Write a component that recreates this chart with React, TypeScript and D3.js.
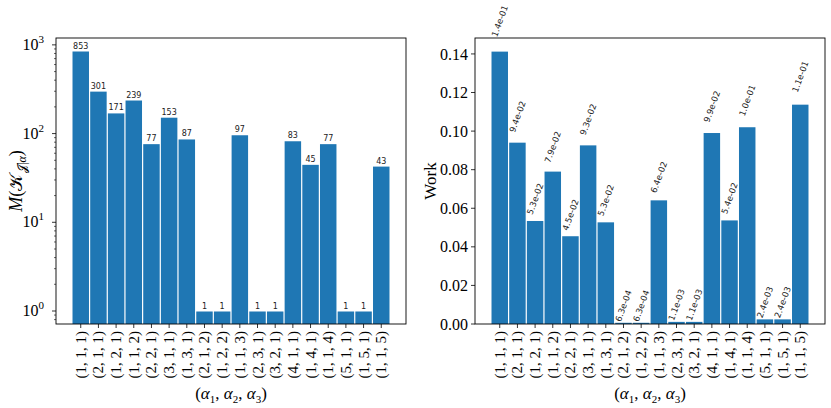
import React, { useEffect, useRef } from 'react';
import * as d3 from 'd3';

const categories = [
  '(1, 1, 1)', '(2, 1, 1)', '(1, 2, 1)', '(1, 1, 2)', '(2, 2, 1)', '(3, 1, 1)',
  '(1, 3, 1)', '(2, 1, 2)', '(1, 2, 2)', '(1, 1, 3)', '(2, 3, 1)', '(3, 2, 1)',
  '(4, 1, 1)', '(1, 4, 1)', '(1, 1, 4)', '(5, 1, 1)', '(1, 5, 1)', '(1, 1, 5)'
];
const cardinality = [853, 301, 171, 239, 77, 153, 87, 1, 1, 97, 1, 1, 83, 45, 77, 1, 1, 43];
const work = [
  0.1412, 0.0940, 0.0534, 0.0790, 0.0455, 0.0926, 0.0527, 0.00063, 0.00063,
  0.0641, 0.0011, 0.0011, 0.0990, 0.0537, 0.1020, 0.0024, 0.0024, 0.1137
];
const workTicks = [0, 0.02, 0.04, 0.06, 0.08, 0.10, 0.12, 0.14];
const logExponents = [0, 1, 2, 3];

const W = 831;
const H = 408;
const TOP = 38;
const BOTTOM = 324;
const BAR = '#1f77b4';
const GAP = 1.2;
const SERIF = '"Liberation Serif", "Times New Roman", serif';
const SANS = '"DejaVu Sans", sans-serif';

const sci = (v: number) => v.toExponential(1).replace(/e([+-])(\d)$/, 'e$10$2');

const App: React.FC = () => {
  const svgRef = useRef<SVGSVGElement>(null);

  useEffect(() => {
    if (!svgRef.current) return;
    const svg = d3.select(svgRef.current);
    svg.selectAll('*').remove();

    const n = categories.length;
    const pad = 0.05 * n;
    const xDomain: [number, number] = [-0.5 - pad, n - 0.5 + pad];

    const drawXAxis = (g: any, x: d3.ScaleLinear<number, number>, x0: number, x1: number) => {
      // tick marks + rotated category labels
      categories.forEach((c, i) => {
        g.append('line')
          .attr('x1', x(i)).attr('x2', x(i))
          .attr('y1', BOTTOM).attr('y2', BOTTOM + 4)
          .attr('stroke', '#000').attr('stroke-width', 0.8);
        g.append('text')
          .attr('transform', `translate(${x(i)},${BOTTOM + 7}) rotate(-90)`)
          .attr('text-anchor', 'end')
          .attr('dominant-baseline', 'central')
          .style('font-family', SERIF)
          .style('font-size', '15px')
          .text(c);
      });

      // x label (α1, α2, α3)
      const lbl = g.append('text')
        .attr('x', (x0 + x1) / 2)
        .attr('y', 399)
        .attr('text-anchor', 'middle')
        .style('font-family', SERIF)
        .style('font-size', '17px');
      lbl.append('tspan').text('(');
      [1, 2, 3].forEach((k, j) => {
        lbl.append('tspan').style('font-style', 'italic').text('α');
        lbl.append('tspan').attr('dy', 4).style('font-size', '11px').text(String(k));
        lbl.append('tspan').attr('dy', -4).text(j < 2 ? ', ' : ')');
      });
    };

    // ---------- left panel: log scale counts ----------
    {
      const x0 = 56, x1 = 406;
      const x = d3.scaleLinear().domain(xDomain).range([x0, x1]);
      const hiLog = Math.log10(d3.max(cardinality)!);
      const m = 0.05 * hiLog;
      const y = d3.scaleLog().domain([Math.pow(10, -m), Math.pow(10, hiLog + m)]).range([BOTTOM, TOP]);
      const g = svg.append('g');
      const bw = x(1) - x(0);

      g.selectAll('rect.bar')
        .data(cardinality)
        .enter().append('rect')
        .attr('x', (_d, i) => x(i) - bw / 2 + GAP / 2)
        .attr('width', bw - GAP)
        .attr('y', d => y(d) + 0.5)
        .attr('height', d => BOTTOM - y(d) - 0.5)
        .attr('fill', BAR);

      g.selectAll('text.val')
        .data(cardinality)
        .enter().append('text')
        .attr('x', (_d, i) => x(i))
        .attr('y', d => y(d) - 2.5)
        .attr('text-anchor', 'middle')
        .style('font-family', SANS)
        .style('font-size', '8px')
        .style('fill', '#222')
        .text(d => String(d));

      // y ticks (major + minor)
      const [lo, hi] = y.domain();
      for (let e = Math.floor(Math.log10(lo)); e <= Math.ceil(Math.log10(hi)); e++) {
        for (let k = 1; k <= 9; k++) {
          const v = k * Math.pow(10, e);
          if (v < lo || v > hi) continue;
          g.append('line')
            .attr('x1', x0).attr('x2', x0 - (k === 1 ? 4 : 2))
            .attr('y1', y(v)).attr('y2', y(v))
            .attr('stroke', '#000').attr('stroke-width', k === 1 ? 0.8 : 0.6);
        }
      }
      logExponents.forEach(e => {
        const t = g.append('text')
          .attr('x', x0 - 12)
          .attr('y', y(Math.pow(10, e)) + 5)
          .attr('text-anchor', 'end')
          .style('font-family', SERIF)
          .style('font-size', '16px');
        t.append('tspan').text('10');
        t.append('tspan').attr('dy', -7).style('font-size', '11px').text(String(e));
      });

      // y label M(K_{J|α})
      const yl = g.append('text')
        .attr('transform', `translate(22,${(TOP + BOTTOM) / 2}) rotate(-90)`)
        .attr('text-anchor', 'middle')
        .style('font-family', SERIF)
        .style('font-size', '18px');
      yl.append('tspan').style('font-style', 'italic').text('M');
      yl.append('tspan').text('(');
      yl.append('tspan').text('𝒦');
      yl.append('tspan').attr('dx', 1).attr('dy', 4).style('font-size', '12px').text('𝒥');
      yl.append('tspan').style('font-size', '12px').text('|');
      yl.append('tspan').style('font-size', '12px').style('font-style', 'italic').text('α');
      yl.append('tspan').attr('dy', -4).text(')');

      drawXAxis(g, x, x0, x1);

      g.append('rect')
        .attr('x', x0).attr('y', TOP)
        .attr('width', x1 - x0).attr('height', BOTTOM - TOP)
        .attr('fill', 'none').attr('stroke', '#000').attr('stroke-width', 0.9);
    }

    // ---------- right panel: work ----------
    {
      const x0 = 475, x1 = 825;
      const x = d3.scaleLinear().domain(xDomain).range([x0, x1]);
      const y = d3.scaleLinear().domain([0, d3.max(work)! * 1.05]).range([BOTTOM, TOP]);
      const g = svg.append('g');
      const bw = x(1) - x(0);

      g.selectAll('rect.bar')
        .data(work)
        .enter().append('rect')
        .attr('x', (_d, i) => x(i) - bw / 2 + GAP / 2)
        .attr('width', bw - GAP)
        .attr('y', d => Math.min(y(d), BOTTOM - 1.2))
        .attr('height', d => Math.max(BOTTOM - y(d), 1.2))
        .attr('fill', BAR);

      // rotated value labels (bbox centred on bar, bottom at 1.05*value)
      const theta = (70 * Math.PI) / 180;
      const fs = 8.5;
      work.forEach((v, i) => {
        const t = g.append('text')
          .attr('text-anchor', 'middle')
          .attr('dominant-baseline', 'central')
          .style('font-family', SANS)
          .style('font-size', `${fs}px`)
          .style('fill', '#222')
          .text(sci(v));
        const L = (t.node() as SVGTextElement).getComputedTextLength();
        const h = L * Math.sin(theta) + fs * 1.1 * Math.cos(theta);
        t.attr('transform', `translate(${x(i)},${y(v * 1.05) - h / 2}) rotate(-70)`);
      });

      workTicks.forEach(v => {
        g.append('line')
          .attr('x1', x0).attr('x2', x0 - 4)
          .attr('y1', y(v)).attr('y2', y(v))
          .attr('stroke', '#000').attr('stroke-width', 0.8);
        g.append('text')
          .attr('x', x0 - 7)
          .attr('y', y(v))
          .attr('dy', '0.35em')
          .attr('text-anchor', 'end')
          .style('font-family', SERIF)
          .style('font-size', '16px')
          .text(v.toFixed(2));
      });

      g.append('text')
        .attr('transform', `translate(436,${(TOP + BOTTOM) / 2}) rotate(-90)`)
        .attr('text-anchor', 'middle')
        .style('font-family', SERIF)
        .style('font-size', '17px')
        .text('Work');

      drawXAxis(g, x, x0, x1);

      g.append('rect')
        .attr('x', x0).attr('y', TOP)
        .attr('width', x1 - x0).attr('height', BOTTOM - TOP)
        .attr('fill', 'none').attr('stroke', '#000').attr('stroke-width', 0.9);
    }
  }, []);

  return (
    <svg
      ref={svgRef}
      width={W}
      height={H}
      style={{ position: 'absolute', left: 0, top: 0, background: 'white' }}
    />
  );
};

export default App;
